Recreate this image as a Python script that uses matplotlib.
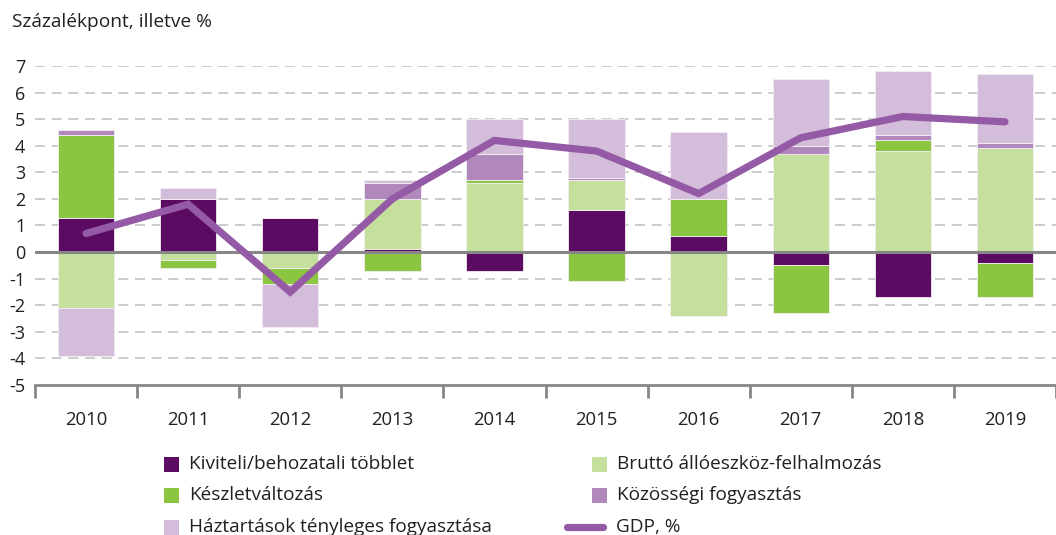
import matplotlib
matplotlib.use("Agg")
import matplotlib.pyplot as plt
import matplotlib.transforms as mtransforms
import numpy as np
from matplotlib.lines import Line2D
from matplotlib.patches import Rectangle

years = ["2010", "2011", "2012", "2013", "2014", "2015", "2016", "2017", "2018", "2019"]
kiviteli = [1.3, 2.0, 1.3, 0.1, -0.7, 1.6, 0.6, -0.5, -1.7, -0.4]
brutto = [-2.1, -0.3, -0.6, 1.9, 2.6, 1.1, -2.4, 3.7, 3.8, 3.9]
keszlet = [3.1, -0.3, -0.6, -0.7, 0.1, -1.1, 1.4, -1.8, 0.4, -1.3]
kozossegi = [0.2, 0.0, 0.0, 0.6, 1.0, 0.1, 0.0, 0.3, 0.2, 0.2]
haztartas = [-1.8, 0.4, -1.6, 0.1, 1.3, 2.2, 2.5, 2.5, 2.4, 2.6]
gdp = [0.7, 1.8, -1.5, 2.0, 4.2, 3.8, 2.2, 4.3, 5.1, 4.9]
yticks = [7, 6, 5, 4, 3, 2, 1, 0, -1, -2, -3, -4, -5]

names = ["Kiviteli/behozatali többlet", "Bruttó állóeszköz-felhalmozás",
         "Készletváltozás", "Közösségi fogyasztás",
         "Háztartások tényleges fogyasztása"]
values = [kiviteli, brutto, keszlet, kozossegi, haztartas]
colors = ["#5c0b62", "#c5df9c", "#8cc53f", "#b088bc", "#d4bdda"]
gdp_label = "GDP, %"
gdp_color = "#955aa5"
text_color = "#231f20"

plt.rcParams['font.family'] = ['Open Sans', 'DejaVu Sans']

W, H = 1056, 535
fig = plt.figure(figsize=(W / 100, H / 100), dpi=100)
ax_left = 35 / W
y_top = 66.0
y_bot = 385.0
ax = fig.add_axes([ax_left, 1 - y_bot / H, 1 - ax_left, (y_bot - y_top) / H])

x = np.arange(len(years))
step = 102.4
xmax = -0.5 + (W - 35) / step
ax.set_xlim(-0.5, xmax)
ax.set_ylim(-5, 7)

pos_base = np.zeros(len(years))
neg_base = np.zeros(len(years))
for name, vals, col in zip(names, values, colors):
    v = np.array(vals, dtype=float)
    bottoms = np.where(v >= 0, pos_base, neg_base)
    ax.bar(x, v, width=0.553, bottom=bottoms, color=col, edgecolor="#f2eef3",
           linewidth=0.6, zorder=3)
    pos_base = pos_base + np.where(v > 0, v, 0)
    neg_base = neg_base + np.where(v < 0, v, 0)

ax.plot(x, gdp, color=gdp_color, lw=5.2, solid_capstyle="round",
        solid_joinstyle="miter", zorder=5)

# grid
for yv in yticks:
    if yv in (0, -5):
        continue
    ax.axhline(yv, color="#c3c3c3", lw=1.2, ls=(0, (6, 4)), zorder=1)
ax.axhline(0, color="#878787", lw=2.2, zorder=4)

for s in ["top", "right", "left"]:
    ax.spines[s].set_visible(False)
ax.spines["bottom"].set_color("#878787")
ax.spines["bottom"].set_linewidth(2)

ax.set_yticks(yticks)
ax.set_yticklabels([str(v) for v in yticks], fontsize=13, color=text_color)
ax.tick_params(axis="y", length=0, pad=7)

ax.set_xticks(np.arange(-0.5, len(years), 1.0))
ax.set_xticklabels([])
ax.tick_params(axis="x", length=9, width=2, color="#878787", direction="out")
trans = mtransforms.blended_transform_factory(ax.transData, fig.transFigure)
for i, yr in enumerate(years):
    ax.text(i, 1 - 420 / H, yr, ha="center", va="center", fontsize=13.3,
            color=text_color, transform=trans, clip_on=False)

fig.text(12 / W, 1 - 22 / H, "Százalékpont, illetve %", fontsize=13.8,
         color=text_color, ha="left", va="center")

# legend (manual layout)
def px(xp, yp):
    return xp / W, 1 - yp / H

leg_items = [
    (164, 464, colors[0], names[0]),
    (164, 495, colors[2], names[2]),
    (164, 527, colors[4], names[4]),
    (592, 464, colors[1], names[1]),
    (592, 495, colors[3], names[3]),
]
for xp, yp, col, lab in leg_items:
    fig.patches.append(Rectangle(px(xp, yp + 7.5), 15 / W, 15 / H, facecolor=col,
                                 edgecolor="none", transform=fig.transFigure))
    fig.text(*px(xp + 25, yp), lab, fontsize=13.7, color=text_color,
             ha="left", va="center")
fig.lines.append(Line2D([567 / W, 603 / W], [1 - 527 / H, 1 - 527 / H], color=gdp_color,
                        lw=5.2, solid_capstyle="round", transform=fig.transFigure))
fig.text(*px(616, 527), gdp_label, fontsize=13.7, color=text_color,
         ha="left", va="center")

fig.savefig("out.png", dpi=100)
